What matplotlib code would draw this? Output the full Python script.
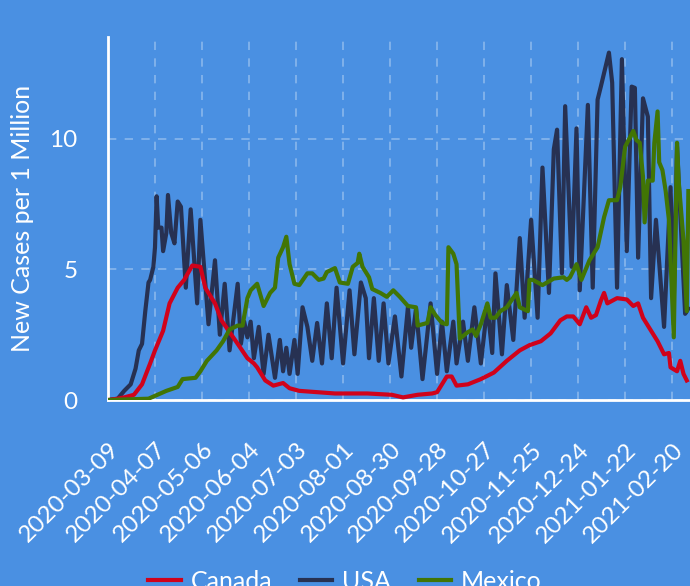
import matplotlib
matplotlib.use('Agg')
import matplotlib.pyplot as plt
import pandas as pd

# days counted from 2020-03-09
start = pd.Timestamp('2020-03-09')
tick_labels = ['2020-03-09', '2020-04-07', '2020-05-06', '2020-06-04', '2020-07-03',
               '2020-08-01', '2020-08-30', '2020-09-28', '2020-10-27', '2020-11-25',
               '2020-12-24', '2021-01-22', '2021-02-20']
y_ticks = [0, 5, 10]

canada_days = [0, 6, 10, 16, 21, 26, 29, 34, 38, 43, 47, 52, 57, 60, 66, 70, 75, 80, 86, 90,
               92, 97, 102, 108, 112, 118, 129, 140, 160, 175, 182, 191, 200, 203, 206, 209,
               212, 215, 222, 230, 238, 246, 254, 260, 267, 273, 279, 283, 287, 291, 295, 298,
               301, 304, 306, 308, 314, 320, 324, 327, 330, 335, 339, 343, 346, 347, 351, 353,
               355, 357]
canada_vals = [0, 0.05, 0.1, 0.2, 0.6, 1.4, 1.9, 2.65, 3.7, 4.3, 4.6, 5.15, 5.1, 4.3, 3.7, 3.05,
               2.6, 2.15, 1.6, 1.4, 1.25, 0.75, 0.55, 0.65, 0.45, 0.35, 0.3, 0.25, 0.25, 0.2,
               0.1, 0.2, 0.25, 0.3, 0.6, 0.9, 0.9, 0.55, 0.6, 0.8, 1.05, 1.5, 1.9, 2.1, 2.25,
               2.55, 3.05, 3.2, 3.2, 2.9, 3.55, 3.15, 3.25, 3.8, 4.1, 3.7, 3.9, 3.85, 3.6, 3.7,
               3.15, 2.65, 2.25, 1.75, 1.8, 1.25, 1.1, 1.5, 1.0, 0.75]

usa_days = [0, 6, 10, 14, 17, 19, 21, 23, 25, 26, 28, 29, 30, 31, 33, 34, 36, 37, 39, 41, 43,
            45, 48, 51, 55, 57, 62, 66, 69, 72, 75, 80, 82, 84, 86, 88, 90, 93, 96, 99, 103,
            106, 108, 110, 112, 115, 117, 120, 123, 126, 129, 132, 135, 138, 141, 145, 149,
            152, 156, 159, 161, 164, 167, 170, 173, 177, 181, 185, 187, 190, 194, 199, 203,
            206, 209, 213, 215, 219, 222, 226, 230, 234, 237, 239, 243, 246, 250, 254, 257,
            261, 265, 268, 272, 275, 277, 280, 282, 286, 289, 291, 296, 299, 302, 304, 309,
            311, 314, 317, 320, 323, 325, 327, 330, 333, 335, 338, 343, 347, 349, 351, 356, 358]
usa_vals = [0, 0.05, 0.35, 0.6, 1.2, 1.9, 2.15, 3.4, 4.5, 4.6, 5.1, 5.85, 7.8, 6.6, 6.6, 5.7,
            6.4, 7.85, 6.4, 6.0, 7.6, 7.4, 4.3, 7.3, 3.7, 6.9, 2.9, 5.35, 2.5, 4.45, 1.9, 4.45,
            2.15, 3.0, 2.4, 3.0, 1.6, 2.8, 1.0, 2.5, 0.85, 2.3, 1.1, 2.0, 1.0, 2.3, 1.0, 3.55,
            2.8, 1.5, 2.95, 1.4, 3.7, 1.6, 4.3, 1.4, 4.2, 1.75, 4.5, 3.9, 1.6, 3.9, 1.5, 3.7,
            1.4, 3.2, 0.9, 3.55, 2.0, 3.5, 0.8, 3.7, 1.0, 3.0, 1.1, 3.0, 1.4, 3.0, 1.5, 3.55,
            1.4, 3.6, 1.8, 4.85, 1.75, 4.4, 2.3, 6.2, 3.15, 6.9, 3.15, 8.9, 4.1, 9.6, 10.35,
            4.85, 11.25, 5.1, 10.4, 4.2, 11.3, 4.3, 11.5, 12.0, 13.3, 12.15, 4.3, 13.05, 5.7,
            12.0, 11.95, 5.45, 11.55, 10.85, 3.9, 6.9, 2.8, 8.15, 3.8, 9.7, 3.3, 3.5]

mexico_days = [0, 25, 36, 43, 46, 54, 57, 61, 67, 71, 75, 80, 83, 86, 88, 92, 96, 100, 103,
               105, 108, 110, 112, 115, 118, 123, 126, 130, 133, 135, 140, 143, 148, 151, 154,
               155, 157, 161, 163, 168, 172, 176, 180, 185, 190, 191, 197, 199, 202, 206, 209,
               210, 213, 215, 217, 222, 225, 227, 230, 234, 236, 239, 242, 246, 252, 254, 259,
               260, 262, 268, 275, 281, 283, 285, 289, 292, 297, 302, 306, 309, 314, 316, 319,
               324, 326, 328, 330, 331, 333, 336, 337, 339, 340, 342, 344, 346, 349, 351, 352,
               355, 357, 358]
mexico_vals = [0, 0.05, 0.35, 0.5, 0.8, 0.85, 1.1, 1.5, 1.9, 2.25, 2.7, 2.85, 2.85, 3.9, 4.2,
               4.45, 3.6, 4.1, 4.3, 5.45, 5.85, 6.25, 5.2, 4.45, 4.4, 4.85, 4.85, 4.6, 4.65, 4.9,
               5.05, 4.5, 4.45, 5.1, 5.25, 5.6, 5.1, 4.7, 4.25, 4.1, 3.95, 4.2, 3.95, 3.6, 3.55,
               2.85, 2.95, 3.55, 3.25, 2.95, 2.9, 5.85, 5.6, 5.2, 2.35, 2.6, 2.7, 2.45, 2.9,
               3.7, 3.15, 3.15, 3.4, 3.55, 4.1, 3.55, 3.4, 4.6, 4.6, 4.4, 4.65, 4.7, 4.6, 4.7,
               5.2, 4.6, 5.35, 5.85, 7.0, 7.65, 7.65, 8.15, 9.7, 10.3, 9.95, 9.85, 8.55, 6.8,
               8.4, 8.4, 9.85, 11.05, 9.1, 8.8, 8.0, 6.9, 2.4, 9.85, 8.4, 6.1, 3.4, 8.0]

bg = '#4a90e2'
plt.rcParams['font.family'] = ['Lato', 'DejaVu Sans']

fig = plt.figure(figsize=(6.9, 5.86), dpi=100, facecolor=bg)
ax = fig.add_axes([0.1565, 0.3174, 0.8435, 0.6195])
ax.set_facecolor(bg)

ax.plot(canada_days, canada_vals, color='#d0021b', lw=3.0, label='Canada', zorder=3)
ax.plot(usa_days, usa_vals, color='#273152', lw=3.0, label='USA', zorder=2)
ax.plot(mexico_days, mexico_vals, color='#417505', lw=3.0, label='Mexico', zorder=4)

tick_pos = [(pd.Timestamp(t) - start).days for t in tick_labels]
ax.set_xticks(tick_pos)
ax.set_xticklabels(tick_labels, rotation=45, ha='right', rotation_mode='anchor')
ax.set_yticks(y_ticks)
ax.set_xlim(0, 359)
ax.set_ylim(0, 13.9)

ax.grid(True, color='white', alpha=0.35, linestyle=(0, (5, 5)), lw=1.2)
for s in ['top', 'right']:
    ax.spines[s].set_visible(False)
for s in ['left', 'bottom']:
    ax.spines[s].set_color('white')
    ax.spines[s].set_linewidth(2)
ax.tick_params(length=0, colors='white', labelsize=17.5)
ax.tick_params(axis='y', pad=22)
ax.tick_params(axis='x', pad=28)
ax.set_ylabel('New Cases per 1 Million', color='white', fontsize=18, labelpad=11)

fig.legend(loc='center', bbox_to_anchor=(0.5, 0.0085), ncol=3, frameon=False, fontsize=18,
           handlelength=1.3, handletextpad=0.4, columnspacing=1.1, labelcolor='white')

fig.savefig('out.png', dpi=100, facecolor=bg)
